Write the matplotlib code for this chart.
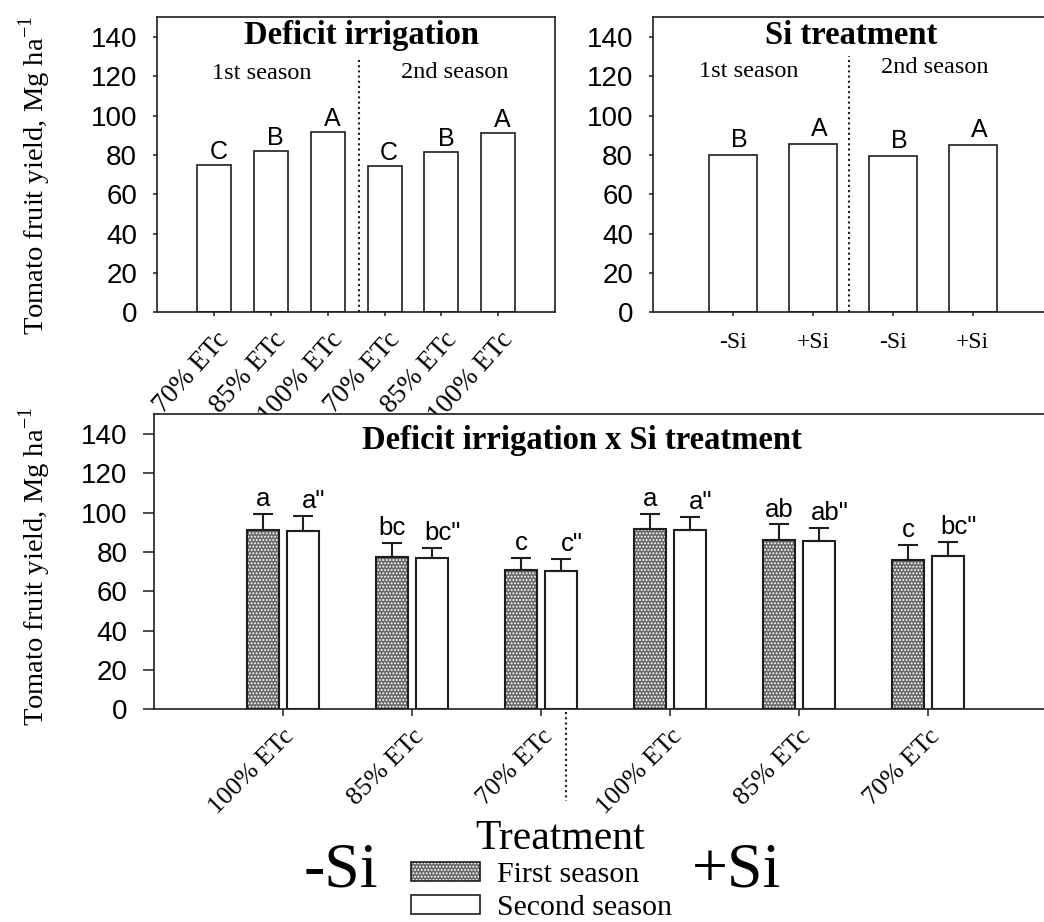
import matplotlib
matplotlib.use('Agg')
import matplotlib.pyplot as plt
import matplotlib.transforms as mtransforms
from matplotlib.patches import Patch
import numpy as np

# ---------------- data ----------------
di_labels = ["70% ETc", "85% ETc", "100% ETc", "70% ETc", "85% ETc", "100% ETc"]
di_yield = [74.9, 82.2, 91.7, 74.6, 81.5, 91.2]
di_letters = ["C", "B", "A", "C", "B", "A"]

si_labels = ["-Si", "+Si", "-Si", "+Si"]
si_yield = [80.2, 85.6, 79.7, 85.3]
si_letters = ["B", "A", "B", "A"]

int_labels = ["100% ETc", "85% ETc", "70% ETc", "100% ETc", "85% ETc", "70% ETc"]
first_yield = [91.1, 77.4, 71.0, 91.6, 86.0, 76.1]
first_err = [8.1, 7.0, 6.1, 7.6, 8.0, 7.3]
first_letters = ["a", "bc", "c", "a", "ab", "c"]
second_yield = [90.5, 76.9, 70.3, 91.1, 85.5, 77.9]
second_err = [7.9, 5.3, 6.3, 6.8, 6.5, 7.0]
second_letters = ['a"', 'bc"', 'c"', 'a"', 'ab"', 'bc"']

yticks = [0, 20, 40, 60, 80, 100, 120, 140]

# ---------------- style ----------------
SERIF = 'Liberation Serif'
SANS = 'Liberation Sans'
EDGE = '#1e1e1e'
DARK = '#6a6a6a'
plt.rcParams['hatch.linewidth'] = 0.9

W, H = 1044, 922
fig = plt.figure(figsize=(W / 100, H / 100), dpi=100)


def px_axes(left, top, right, bottom):
    return fig.add_axes([left / W, 1 - bottom / H, (right - left) / W, (bottom - top) / H])


ax1 = px_axes(157.3, 17.3, 555.0, 312.3)
ax2 = px_axes(653.3, 17.3, 1052.5, 312.3)
ax3 = px_axes(154.0, 414.3, 1057.3, 709.3)


def style_axis(ax, ylen, ypad, xlen):
    ax.set_ylim(0, 150)
    ax.set_yticks(yticks)
    ax.set_yticklabels([str(t) for t in yticks], fontfamily=SANS, fontsize=20)
    for s in ax.spines.values():
        s.set_linewidth(1.2)
        s.set_color(EDGE)
    ax.tick_params(axis='y', direction='out', length=ylen, width=1.1, color=EDGE, pad=ypad)
    ax.tick_params(axis='x', direction='out', length=xlen, width=1.1, color=EDGE)


def shift_labels(ax, dx_px, dy_px):
    off = mtransforms.ScaledTranslation(dx_px / 100, dy_px / 100, fig.dpi_scale_trans)
    for lab in ax.get_xticklabels():
        lab.set_transform(lab.get_transform() + off)


# ---------------- panel 1: deficit irrigation ----------------
style_axis(ax1, 3, 11.5, 3)
x1 = np.arange(len(di_yield))
ax1.bar(x1, di_yield, width=0.6, facecolor='white', edgecolor=EDGE, linewidth=1.2, zorder=2)
ax1.set_xlim(-1, 6)
ax1.set_xticks(x1)
ax1.set_xticklabels(di_labels, fontfamily=SERIF, fontsize=19.5, rotation=48,
                    ha='right', va='center', rotation_mode='anchor')
ax1.tick_params(axis='x', pad=14)
shift_labels(ax1, 11, 0)
for xi, v, t in zip(x1, di_yield, di_letters):
    ax1.text(xi + 0.08, v + 3, t, ha='center', va='baseline', fontfamily=SANS, fontsize=18)
ax1.plot([2.55, 2.55], [0, 129.5], ls=(0, (1, 1.5)), color=EDGE, lw=1.5)
ax1.text(2.6, 136.2, 'Deficit irrigation', ha='center', va='baseline',
         fontfamily=SERIF, fontweight='bold', fontsize=23.5)
ax1.text(0.84, 118.4, '1st season', ha='center', va='baseline', fontfamily=SERIF, fontsize=17.5)
ax1.text(4.24, 119.3, '2nd season', ha='center', va='baseline', fontfamily=SERIF, fontsize=17.5)

# ---------------- panel 2: Si treatment ----------------
style_axis(ax2, 3, 11.5, 3)
x2 = np.arange(len(si_yield))
ax2.bar(x2, si_yield, width=0.6, facecolor='white', edgecolor=EDGE, linewidth=1.2, zorder=2)
ax2.set_xlim(-1, 4)
ax2.set_xticks(x2)
ax2.set_xticklabels(si_labels, fontfamily=SERIF, fontsize=17)
ax2.tick_params(axis='x', pad=11)
for xi, v, t in zip(x2, si_yield, si_letters):
    ax2.text(xi + 0.08, v + 4, t, ha='center', va='baseline', fontfamily=SANS, fontsize=18)
ax2.plot([1.45, 1.45], [0, 130.3], ls=(0, (1, 1.5)), color=EDGE, lw=1.5)
ax2.text(1.48, 136.2, 'Si treatment', ha='center', va='baseline',
         fontfamily=SERIF, fontweight='bold', fontsize=23.5)
ax2.text(0.2, 119.8, '1st season', ha='center', va='baseline', fontfamily=SERIF, fontsize=17.5)
ax2.text(2.52, 121.5, '2nd season', ha='center', va='baseline', fontfamily=SERIF, fontsize=17.5)

# ---------------- panel 3: interaction ----------------
style_axis(ax3, 8, 11, 5)
x3 = np.arange(len(first_yield))
off, bw = 0.155, 0.25
ax3.bar(x3 - off, first_yield, width=bw, facecolor=DARK, edgecolor='white', hatch='.....',
        linewidth=0, zorder=2)
ax3.bar(x3 - off, first_yield, width=bw, facecolor='none', edgecolor=EDGE, linewidth=1.5, zorder=3)
ax3.bar(x3 + off, second_yield, width=bw, facecolor='white', edgecolor=EDGE, linewidth=1.5, zorder=3)
zeros = np.zeros(len(first_yield))
ax3.errorbar(x3 - off, first_yield, yerr=[zeros, first_err], fmt='none', ecolor=EDGE,
             elinewidth=1.5, capsize=7.2, capthick=1.5, zorder=4)
ax3.errorbar(x3 + off, second_yield, yerr=[zeros, second_err], fmt='none', ecolor=EDGE,
             elinewidth=1.5, capsize=7.2, capthick=1.5, zorder=4)
for xi, v, e, t in zip(x3, first_yield, first_err, first_letters):
    ax3.text(xi - off, v + e + 4, t, ha='center', va='baseline', fontfamily=SANS, fontsize=18.5)
for xi, v, e, t in zip(x3, second_yield, second_err, second_letters):
    ax3.text(xi + off + 0.08, v + e + 4, t, ha='center', va='baseline', fontfamily=SANS, fontsize=18.5)
ax3.set_xlim(-1, 6)
ax3.set_xticks(x3)
ax3.set_xticklabels(int_labels, fontfamily=SERIF, fontsize=19, rotation=45,
                    ha='right', va='center', rotation_mode='anchor')
ax3.tick_params(axis='x', pad=12)
shift_labels(ax3, 8, 0)
ax3.text(2.32, 132.5, 'Deficit irrigation x Si treatment', ha='center', va='baseline',
         fontfamily=SERIF, fontweight='bold', fontsize=23.5)
ax3.plot([2.19, 2.19], [-0.01, -0.31], ls=(0, (1, 1.5)), color=EDGE, lw=1.5,
         transform=ax3.get_xaxis_transform(), clip_on=False)

# y labels
ylab = 'Tomato fruit yield, Mg ha$^{\\mathregular{-1}}$'
fig.text(53 / W, 1 - 175 / H, ylab, rotation=90, ha='right', va='center',
         fontfamily=SERIF, fontsize=20.5)
fig.text(53 / W, 1 - 566 / H, ylab, rotation=90, ha='right', va='center',
         fontfamily=SERIF, fontsize=20.5)

# ---------------- legend ----------------
fig.text(341 / W, 1 - 886 / H, '-Si', ha='center', va='baseline', fontfamily=SERIF, fontsize=46)
fig.text(736.6 / W, 1 - 886 / H, '+Si', ha='center', va='baseline', fontfamily=SERIF, fontsize=46)
fig.text(560 / W, 1 - 849 / H, 'Treatment', ha='center', va='baseline', fontfamily=SERIF, fontsize=30)

h_dark = (Patch(facecolor=DARK, edgecolor='white', hatch='.....', linewidth=0),
          Patch(facecolor='none', edgecolor=EDGE, linewidth=1.2))
h_white = Patch(facecolor='white', edgecolor=EDGE, linewidth=1.2)
leg = fig.legend([h_dark, h_white], ['First season', 'Second season'],
                 loc='upper left', bbox_to_anchor=(411 / W, 1 - 862 / H), frameon=False,
                 prop={'family': SERIF, 'size': 21.5},
                 handlelength=2.31, handleheight=0.585, handletextpad=0.57,
                 labelspacing=0.24, borderpad=0, borderaxespad=0)

fig.savefig('out.png', dpi=100)
